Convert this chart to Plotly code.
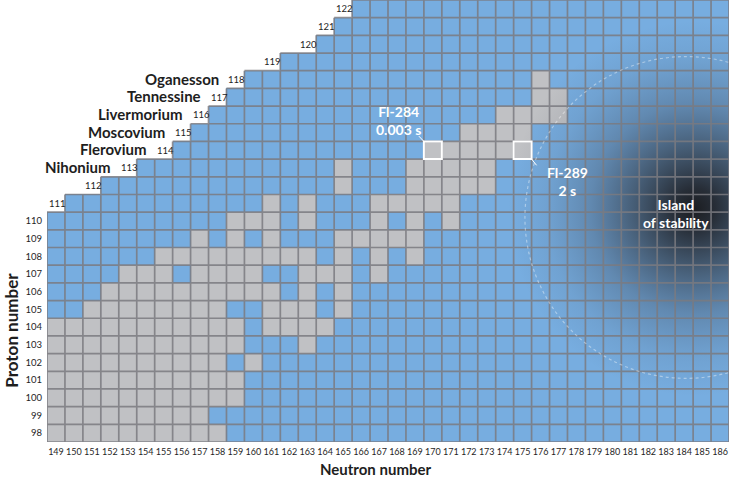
import base64

import plotly.graph_objects as go

BLUE = "#77ade0"
GREY = "#c0c1c4"
GRID = "rgba(122,122,128,0.85)"
INK = "#1e1e1e"

neutrons = list(range(149, 187))
protons = list(range(98, 123))
axis_protons = list(range(98, 111))

# first neutron number drawn for the upper proton rows (98-110 start at 149)
row_start = {111: 150, 112: 152, 113: 154, 114: 156, 115: 157, 116: 158,
             117: 159, 118: 160, 119: 162, 120: 164, 121: 165, 122: 166}

elements = {113: "Nihonium", 114: "Flerovium", 115: "Moscovium",
            116: "Livermorium", 117: "Tennessine", 118: "Oganesson"}

# known (grey) isotopes, as runs of neutron numbers per proton number
known = {
    98: [(149, 158)],
    99: [(149, 157)],
    100: [(149, 159)],
    101: [(149, 159)],
    102: [(149, 158), (160, 160)],
    103: [(149, 159), (163, 163)],
    104: [(149, 159), (161, 164)],
    105: [(151, 158), (161, 163), (165, 165)],
    106: [(152, 161), (163, 163), (165, 165)],
    107: [(153, 155), (157, 160), (163, 165), (167, 167)],
    108: [(155, 163), (165, 165), (167, 167), (169, 169)],
    109: [(157, 157), (159, 159), (161, 161), (165, 169)],
    110: [(159, 161), (163, 163), (167, 167), (169, 169), (171, 171)],
    111: [(161, 161), (163, 163), (167, 171)],
    112: [(165, 165), (169, 173)],
    113: [(165, 165), (169, 173)],
    114: [(170, 175)],
    115: [(172, 175)],
    116: [(174, 177)],
    117: [(176, 177)],
    118: [(176, 176)],
}

# highlighted flerovium isotopes: (N, Z, label, label position)
highlights = [
    (170, 114, "Fl-284<br>0.003 s", (168.1, 115.7)),
    (175, 114, "Fl-289<br>2 s", (177.5, 112.25)),
]

island_centre = (184.6, 110.7)
island_radius = (10.4, 10.6)
ring_centre = (184.1, 110.2)
ring_radius = (8.97, 9.1)


def first_n(z):
    return row_start.get(z, 149)


def is_known(n, z):
    return any(a <= n <= b for a, b in known.get(z, []))


z = []
for p in protons:
    z.append([None if n < first_n(p) else (1 if is_known(n, p) else 0) for n in neutrons])

fig = go.Figure(
    go.Heatmap(
        x=neutrons,
        y=protons,
        z=z,
        zmin=0,
        zmax=1,
        colorscale=[[0, BLUE], [0.5, BLUE], [0.5, GREY], [1, GREY]],
        showscale=False,
        hoverinfo="skip",
    )
)

# grid lines following the staircase outline
segs = [f"M148.5,97.5 L186.5,97.5"]
for p in protons:
    segs.append(f"M{first_n(p) - 0.5},{p + 0.5} L186.5,{p + 0.5}")
for c in range(149, 188):
    top = max(p for p in protons if first_n(p) <= c)
    segs.append(f"M{c - 0.5},97.5 L{c - 0.5},{top + 0.5}")

svg = (
    '<svg xmlns="http://www.w3.org/2000/svg" width="200" height="200" viewBox="0 0 100 100" '
    'preserveAspectRatio="none"><defs><radialGradient id="g" cx="50%" cy="50%" r="50%">'
    '<stop offset="0" stop-color="#19191c" stop-opacity="0.97"/>'
    '<stop offset="0.11" stop-color="#1c1c20" stop-opacity="0.88"/>'
    '<stop offset="0.32" stop-color="#24262c" stop-opacity="0.6"/>'
    '<stop offset="0.56" stop-color="#2e3440" stop-opacity="0.3"/>'
    '<stop offset="0.8" stop-color="#344050" stop-opacity="0.1"/>'
    '<stop offset="1" stop-color="#344050" stop-opacity="0"/>'
    '</radialGradient></defs><rect width="100" height="100" fill="url(#g)"/></svg>'
)
fig.add_layout_image(
    source="data:image/svg+xml;base64," + base64.b64encode(svg.encode()).decode(),
    xref="x", yref="y",
    x=island_centre[0] - island_radius[0], y=island_centre[1] + island_radius[1],
    sizex=2 * island_radius[0], sizey=2 * island_radius[1],
    xanchor="left", yanchor="top", sizing="stretch", layer="above",
)

fig.add_shape(type="path", path=" ".join(segs), xref="x", yref="y",
              line=dict(color=GRID, width=1.7), layer="above")
fig.add_shape(type="circle", xref="x", yref="y",
              x0=ring_centre[0] - ring_radius[0], x1=ring_centre[0] + ring_radius[0],
              y0=ring_centre[1] - ring_radius[1], y1=ring_centre[1] + ring_radius[1],
              line=dict(color="rgba(255,255,255,0.4)", width=1.2, dash="dot"), layer="above")

for n, p, label, (tx, ty) in highlights:
    fig.add_shape(type="rect", xref="x", yref="y", x0=n - 0.5, x1=n + 0.5, y0=p - 0.5, y1=p + 0.5,
                  line=dict(color="white", width=2), layer="above")
    fig.add_annotation(x=tx, y=ty, text=f"<b>{label}</b>", showarrow=False,
                       font=dict(family="Lato", size=14, color="white"))
fig.add_shape(type="line", xref="x", yref="y", x0=169.5, y0=114.5, x1=169.22, y1=114.8,
              line=dict(color="white", width=1), layer="above")
fig.add_shape(type="line", xref="x", yref="y", x0=175.5, y0=113.5, x1=175.78, y1=113.15,
              line=dict(color="white", width=1), layer="above")

fig.add_annotation(x=183.55, y=110.4, text="<b>Island<br>of stability</b>", showarrow=False,
                   font=dict(family="Lato", size=14, color="white"))

for p in protons:
    if p <= 110:
        continue
    x0 = first_n(p) - 1.5
    fig.add_annotation(x=x0, y=p, text=str(p), showarrow=False, xanchor="left",
                       font=dict(family="Lato", size=9.5, color=INK))
    if p in elements:
        fig.add_annotation(x=x0 - 0.33, y=p + 0.05, text=f"<b>{elements[p]}</b>", showarrow=False,
                           xanchor="right", font=dict(family="Lato", size=15, color=INK))

fig.add_annotation(xref="paper", yref="paper", x=0.482, y=-0.061, xanchor="center", yanchor="middle",
                   text="<b>Neutron number</b>", showarrow=False,
                   font=dict(family="Lato", size=15, color=INK))
fig.add_annotation(xref="paper", yref="paper", x=-0.052, y=0.253, xanchor="center", yanchor="middle",
                   text="<b>Proton number</b>", showarrow=False, textangle=-90,
                   font=dict(family="Lato", size=17, color=INK))

fig.update_xaxes(range=[148.5, 186.5], tickvals=neutrons, ticktext=[str(n) for n in neutrons],
                 tickangle=0, automargin=False, ticklabelstandoff=3,
                 showgrid=False, zeroline=False, showline=False, ticks="",
                 tickfont=dict(family="Lato", size=9, color=INK), fixedrange=True)
fig.update_yaxes(range=[97.5, 122.5], tickvals=axis_protons, ticktext=[str(p) for p in axis_protons],
                 automargin=False,
                 showgrid=False, zeroline=False, showline=False, ticks="", ticklabelstandoff=4,
                 tickfont=dict(family="Lato", size=9.5, color=INK), fixedrange=True)
fig.update_layout(
    width=730, height=482,
    margin=dict(l=47, r=1, t=0, b=40, autoexpand=False),
    paper_bgcolor="white", plot_bgcolor="white",
    font=dict(family="Lato", color=INK),
    showlegend=False,
)

# drop the browser's default 8px body margin so the figure sits at the window's corner
fig.write_html("out.html", config={"displayModeBar": False},
               post_script="document.body.style.margin='0px';")
